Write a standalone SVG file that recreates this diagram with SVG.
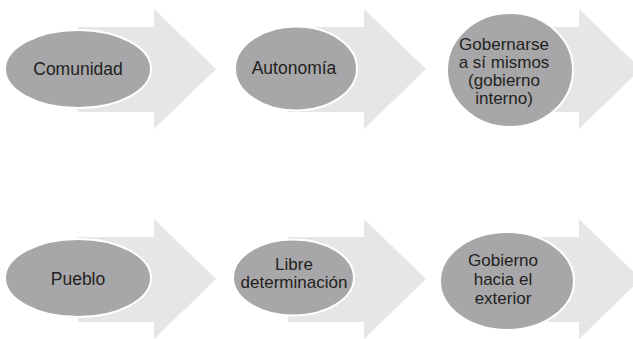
<svg xmlns="http://www.w3.org/2000/svg" width="633" height="339" viewBox="0 0 633 339">
  <style>
    .arrow { fill: #e6e6e7; }
    .oval { fill: #a7a7a9; stroke: #ffffff; stroke-width: 2; }
    .label { font-family: "Liberation Sans", Arial, sans-serif; font-size: 17.5px; fill: #231f20; text-anchor: middle; }
    .multi { font-size: 17px; }
  </style>
  <defs>
    <path id="blockArrow" d="M0,18 H76 V0 L138,60 L76,120 V103 H0 Z"/>
  </defs>
  <rect width="633" height="339" fill="#ffffff"/>
  <g id="arrows">
    <use href="#blockArrow" class="arrow" x="78" y="9"/>
    <use href="#blockArrow" class="arrow" x="288" y="9"/>
    <use href="#blockArrow" class="arrow" x="503" y="9"/>
    <use href="#blockArrow" class="arrow" x="78" y="219"/>
    <use href="#blockArrow" class="arrow" x="288" y="219"/>
    <use href="#blockArrow" class="arrow" x="503" y="219"/>
  </g>
  <g id="node-comunidad">
    <ellipse class="oval" cx="78" cy="69" rx="73" ry="39"/>
    <text class="label" x="78" y="75">Comunidad</text>
  </g>
  <g id="node-autonomia">
    <ellipse class="oval" cx="296" cy="68.5" rx="61" ry="42"/>
    <text class="label" x="294" y="74">Autonomía</text>
  </g>
  <g id="node-gobernarse">
    <ellipse class="oval" cx="510" cy="70" rx="63" ry="57"/>
    <text class="label multi" x="504" y="50">Gobernarse</text>
    <text class="label multi" x="504" y="68">a sí mismos</text>
    <text class="label multi" x="504" y="86">(gobierno</text>
    <text class="label multi" x="504" y="104">interno)</text>
  </g>
  <g id="node-pueblo">
    <ellipse class="oval" cx="78" cy="278" rx="73" ry="39"/>
    <text class="label" x="78" y="285">Pueblo</text>
  </g>
  <g id="node-libre">
    <ellipse class="oval" cx="293.5" cy="277.5" rx="60.5" ry="38"/>
    <text class="label multi" x="294" y="270">Libre</text>
    <text class="label multi" x="294" y="288">determinación</text>
  </g>
  <g id="node-gobierno">
    <ellipse class="oval" cx="507" cy="281" rx="67" ry="49"/>
    <text class="label multi" x="503" y="266">Gobierno</text>
    <text class="label multi" x="503" y="285">hacia el</text>
    <text class="label multi" x="503" y="304">exterior</text>
  </g>
</svg>
